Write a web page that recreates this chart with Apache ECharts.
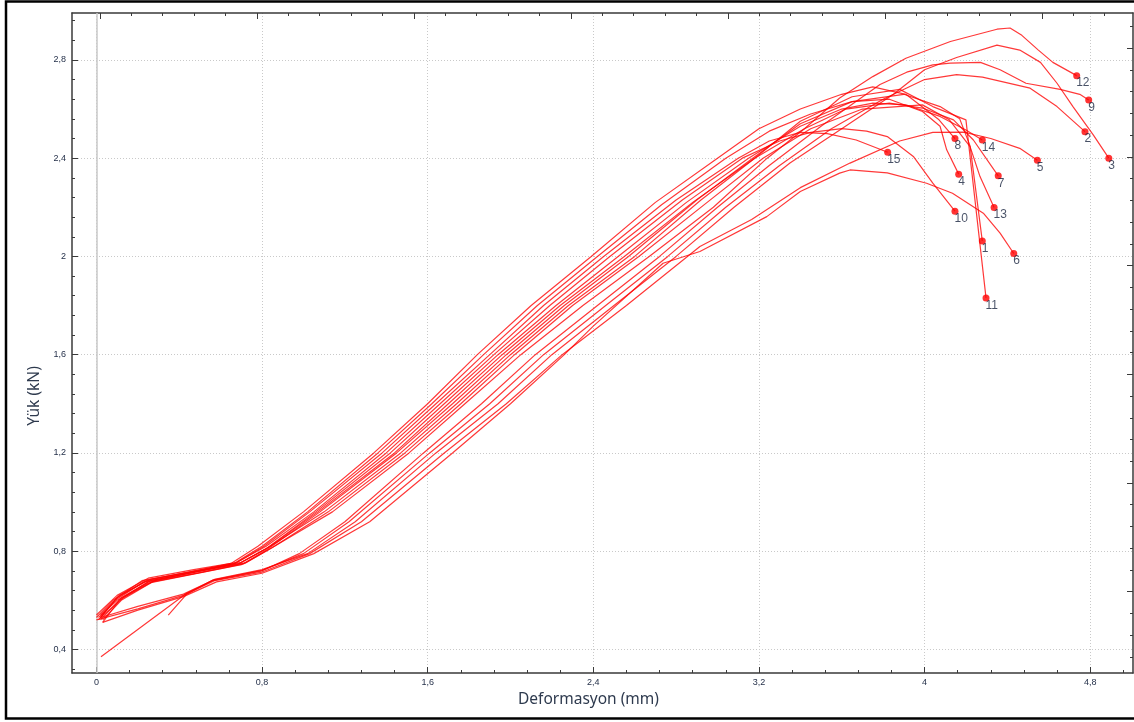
<!DOCTYPE html>
<html>
<head>
<meta charset="utf-8">
<title>Yük - Deformasyon</title>
<script src="https://cdn.jsdelivr.net/npm/echarts@6/dist/echarts.min.js"></script>
<style>
  html, body { margin: 0; padding: 0; background: #fff; }
  #main { width: 1134px; height: 722px; }
</style>
</head>
<body>
<div id="main"></div>
<script>
// numune eğrileri: [deformasyon (mm), yük (kN)]
const curve1 = [[0.01,0.53],[0.1,0.6],[0.25,0.67],[0.48,0.708],[0.7,0.745],[0.83,0.81],[1.08,0.96],[1.45,1.2],[1.72,1.4],[1.98,1.6],[2.26,1.8],[2.57,2.0],[2.9,2.23],[3.17,2.4],[3.4,2.54],[3.65,2.63],[3.9,2.66],[4.075,2.61],[4.17,2.56],[4.22,2.45],[4.279,2.063]];
const curve2 = [[0.347,0.54],[0.436,0.625],[0.56,0.682],[0.8,0.722],[1.0,0.79],[1.22,0.92],[1.61,1.2],[1.9,1.4],[2.16,1.6],[2.46,1.8],[2.76,2.0],[3.04,2.2],[3.3,2.37],[3.55,2.52],[3.8,2.64],[4.0,2.72],[4.155,2.74],[4.28,2.73],[4.51,2.685],[4.64,2.61],[4.775,2.508]];
const curve3 = [[0.022,0.37],[0.436,0.629],[0.57,0.685],[0.8,0.725],[1.02,0.79],[1.25,0.92],[1.64,1.2],[1.94,1.4],[2.2,1.6],[2.5,1.8],[2.8,2.0],[3.08,2.2],[3.35,2.38],[3.6,2.52],[3.85,2.66],[4.0,2.76],[4.155,2.81],[4.35,2.86],[4.46,2.84],[4.56,2.79],[4.64,2.705],[4.717,2.61],[4.815,2.495],[4.89,2.4]];
const curve4 = [[0.01,0.52],[0.09,0.6],[0.23,0.675],[0.46,0.712],[0.66,0.748],[0.8,0.82],[1.02,0.96],[1.36,1.2],[1.62,1.4],[1.87,1.6],[2.13,1.8],[2.42,2.0],[2.73,2.21],[3.04,2.4],[3.25,2.51],[3.45,2.58],[3.65,2.63],[3.83,2.64],[3.99,2.59],[4.075,2.53],[4.107,2.434],[4.165,2.335]];
const curve5 = [[0.0,0.52],[0.2,0.565],[0.42,0.62],[0.57,0.68],[0.8,0.715],[1.03,0.79],[1.28,0.92],[1.68,1.2],[1.98,1.4],[2.25,1.6],[2.56,1.8],[2.915,2.04],[3.165,2.15],[3.4,2.28],[3.64,2.38],[3.88,2.47],[4.04,2.505],[4.19,2.506],[4.32,2.48],[4.46,2.44],[4.545,2.392]];
const curve6 = [[0.03,0.51],[0.2,0.56],[0.42,0.615],[0.58,0.675],[0.8,0.71],[1.05,0.79],[1.32,0.92],[1.72,1.2],[2.0,1.4],[2.26,1.6],[2.4,1.716],[2.737,1.972],[2.915,2.02],[3.238,2.162],[3.4,2.264],[3.59,2.339],[3.64,2.352],[3.82,2.34],[4.01,2.298],[4.135,2.257],[4.284,2.176],[4.365,2.095],[4.431,2.012]];
const curve7 = [[0.02,0.52],[0.12,0.61],[0.26,0.68],[0.48,0.715],[0.69,0.75],[0.83,0.815],[1.07,0.96],[1.44,1.2],[1.7,1.4],[1.96,1.6],[2.24,1.8],[2.55,2.0],[2.88,2.22],[3.18,2.4],[3.42,2.52],[3.62,2.6],[3.83,2.624],[3.99,2.604],[4.14,2.556],[4.236,2.474],[4.356,2.328]];
const curve8 = [[0.0,0.53],[0.08,0.6],[0.22,0.68],[0.45,0.715],[0.65,0.75],[0.78,0.82],[1.0,0.96],[1.34,1.2],[1.6,1.4],[1.84,1.6],[2.1,1.8],[2.39,2.0],[2.7,2.22],[3.0,2.4],[3.2,2.52],[3.4,2.6],[3.6,2.66],[3.75,2.69],[3.91,2.66],[4.07,2.556],[4.147,2.48]];
const curve9 = [[0.02,0.53],[0.2,0.575],[0.42,0.625],[0.56,0.68],[0.8,0.72],[0.98,0.79],[1.2,0.92],[1.58,1.2],[1.86,1.4],[2.12,1.6],[2.42,1.8],[2.72,2.0],[3.0,2.2],[3.25,2.37],[3.5,2.53],[3.785,2.7],[3.914,2.75],[4.04,2.78],[4.125,2.787],[4.27,2.79],[4.365,2.76],[4.49,2.705],[4.655,2.68],[4.75,2.66],[4.793,2.637]];
const curve10 = [[0.0,0.54],[0.1,0.62],[0.25,0.69],[0.47,0.725],[0.68,0.755],[0.82,0.82],[1.05,0.96],[1.4,1.2],[1.66,1.4],[1.92,1.6],[2.19,1.8],[2.48,2.0],[2.83,2.23],[3.12,2.4],[3.3,2.47],[3.45,2.505],[3.6,2.52],[3.72,2.51],[3.82,2.488],[3.946,2.407],[4.04,2.298],[4.147,2.184]];
const curve11 = [[0.02,0.54],[0.11,0.62],[0.26,0.685],[0.49,0.72],[0.7,0.755],[0.84,0.82],[1.1,0.96],[1.47,1.2],[1.74,1.4],[2.0,1.6],[2.28,1.8],[2.6,2.0],[2.92,2.23],[3.18,2.4],[3.4,2.55],[3.65,2.65],[3.88,2.68],[4.04,2.61],[4.2,2.556],[4.297,1.831]];
const curve12 = [[0.02,0.53],[0.13,0.61],[0.28,0.68],[0.5,0.72],[0.72,0.752],[0.86,0.82],[1.14,0.96],[1.51,1.2],[1.78,1.4],[2.05,1.6],[2.35,1.8],[2.67,2.0],[2.98,2.2],[3.24,2.4],[3.42,2.52],[3.59,2.645],[3.75,2.732],[3.91,2.807],[4.125,2.875],[4.35,2.925],[4.413,2.93],[4.47,2.9],[4.55,2.84],[4.62,2.79],[4.735,2.736]];
const curve13 = [[0.03,0.52],[0.12,0.6],[0.27,0.675],[0.5,0.712],[0.71,0.748],[0.85,0.815],[1.12,0.96],[1.49,1.2],[1.76,1.4],[2.02,1.6],[2.3,1.8],[2.62,2.0],[2.95,2.22],[3.22,2.4],[3.45,2.52],[3.7,2.6],[3.99,2.617],[4.12,2.556],[4.22,2.447],[4.268,2.325],[4.336,2.199]];
const curve14 = [[0.03,0.51],[0.11,0.6],[0.25,0.675],[0.48,0.71],[0.68,0.745],[0.82,0.81],[1.06,0.96],[1.42,1.2],[1.68,1.4],[1.94,1.6],[2.22,1.8],[2.52,2.0],[2.85,2.22],[3.15,2.4],[3.4,2.53],[3.6,2.6],[3.75,2.624],[3.91,2.617],[4.075,2.57],[4.2,2.515],[4.279,2.474]];
const curve15 = [[0.02,0.53],[0.1,0.61],[0.24,0.68],[0.47,0.72],[0.67,0.75],[0.81,0.82],[1.03,0.96],[1.38,1.2],[1.64,1.4],[1.9,1.6],[2.16,1.8],[2.45,2.0],[2.8,2.23],[3.1,2.4],[3.25,2.47],[3.4,2.505],[3.53,2.5],[3.67,2.474],[3.822,2.424]];

const curves = [curve1, curve2, curve3, curve4, curve5, curve6, curve7, curve8,
  curve9, curve10, curve11, curve12, curve13, curve14, curve15];
const curveNames = ['1', '2', '3', '4', '5', '6', '7', '8', '9', '10', '11', '12', '13', '14', '15'];

// eksen değerleri
const xMajor = [0, 0.8, 1.6, 2.4, 3.2, 4, 4.8];
const yMajor = [0.4, 0.8, 1.2, 1.6, 2, 2.4, 2.8];
const topMajor = [0, 1, 2, 3, 4, 5, 6];
const rightMajor = [0, 1, 2, 3, 4, 5];

const xRange = [-0.118, 5.007];
const yRange = [0.304, 2.991];
const topRange = [-0.178, 6.58];
const rightRange = [-0.748, 5.324];

function steps(from, to, step) {
  const out = [];
  for (let v = from; v <= to + 1e-9; v += step) out.push(Math.round(v * 1000) / 1000);
  return out;
}

const textColor = '#1f2b45';
const lineColor = '#3a3a3a';

function tickAxis(pos, range, values, len, showLine) {
  return {
    type: 'value',
    position: pos,
    min: range[0],
    max: range[1],
    axisLine: { show: showLine, onZero: false, lineStyle: { color: lineColor, width: 1.5 } },
    axisTick: { show: true, inside: true, length: len, customValues: values, lineStyle: { color: lineColor, width: 1 } },
    axisLabel: { show: false },
    splitLine: { show: false }
  };
}

function mainAxis(pos, range, values, name) {
  return {
    type: 'value',
    position: pos,
    min: range[0],
    max: range[1],
    name: name,
    nameLocation: 'middle',
    axisLine: { show: true, onZero: false, lineStyle: { color: lineColor, width: 1.5 } },
    axisTick: { show: true, inside: true, length: 6, customValues: values, lineStyle: { color: lineColor, width: 1 } },
    axisLabel: {
      show: true,
      customValues: values,
      fontFamily: 'Liberation Sans',
      fontSize: 9,
      color: textColor,
      formatter: v => String(v).replace('.', ',')
    },
    splitLine: { show: true, lineStyle: { color: '#c9c9c9', type: [1, 2], width: 1 } }
  };
}

const xMain = mainAxis('bottom', xRange, xMajor, 'Deformasyon (mm)');
xMain.nameGap = 17;
xMain.axisLabel.margin = 5;
xMain.nameTextStyle = { fontFamily: 'Noto Sans', fontSize: 15.5, color: '#2e3a4e', padding: [0, 28, 0, 0] };

const yMain = mainAxis('left', yRange, yMajor, 'Yük (kN)');
yMain.nameGap = 28;
yMain.nameRotate = 90;
yMain.axisLabel.margin = 6;
yMain.nameTextStyle = { fontFamily: 'Noto Sans', fontSize: 15.5, color: '#2e3a4e', padding: [0, 106, 0, 0] };

const series = curves.map((c, i) => ({
  name: curveNames[i],
  type: 'line',
  data: c,
  showSymbol: false,
  silent: true,
  smooth: false,
  lineStyle: { color: 'rgba(255,0,0,0.78)', width: 1.2 },
  z: 3
}));

series[0].markLine = {
  silent: true,
  symbol: 'none',
  label: { show: false },
  lineStyle: { color: '#c8c8c8', type: 'solid', width: 1.5 },
  data: [{ xAxis: 0 }],
  z: 1
};

series.push({
  type: 'scatter',
  data: curves.map((c, i) => ({ name: curveNames[i], value: c[c.length - 1] })),
  symbol: 'circle',
  symbolSize: 7,
  itemStyle: { color: '#ff0000' },
  silent: true,
  z: 5,
  label: {
    show: true,
    formatter: p => p.name,
    position: [3, 5],
    align: 'left',
    verticalAlign: 'top',
    fontFamily: 'Liberation Sans',
    fontSize: 12,
    color: '#1a2540'
  }
});

const chart = echarts.init(document.getElementById('main'), null, { renderer: 'canvas' });
chart.setOption({
  animation: false,
  backgroundColor: '#ffffff',
  grid: { left: 72, right: 1, top: 13, bottom: 49, containLabel: false, outerBoundsMode: 'none' },
  xAxis: [
    xMain,
    tickAxis('bottom', xRange, steps(0, 4.96, 0.16), 3, false),
    tickAxis('top', topRange, topMajor, 6, true),
    tickAxis('top', topRange, steps(0, 6.4, 0.2), 3, false)
  ],
  yAxis: [
    yMain,
    tickAxis('left', yRange, steps(0.32, 2.96, 0.08), 3, false),
    tickAxis('right', rightRange, rightMajor, 6, true),
    tickAxis('right', rightRange, steps(-0.6, 5.2, 0.2), 3, false)
  ],
  graphic: [{
    type: 'rect',
    silent: true,
    shape: { x: 6, y: 1.5, width: 1200, height: 717 },
    style: { fill: 'none', stroke: '#000', lineWidth: 2.5 },
    z: 100
  }],
  series: series
});
</script>
</body>
</html>
